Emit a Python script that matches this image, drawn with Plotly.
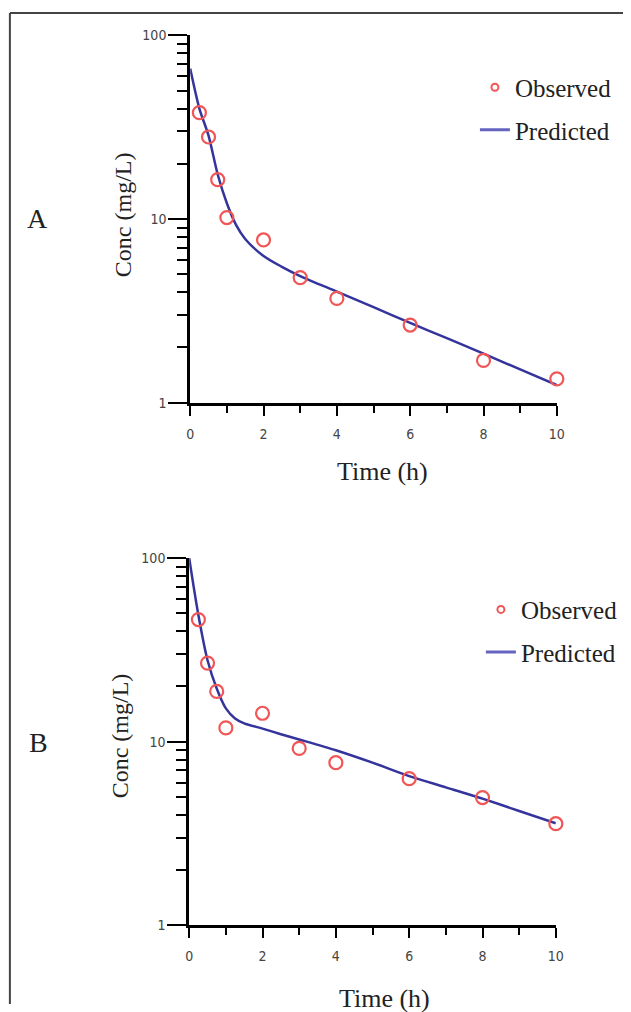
import plotly.graph_objects as go

# Panel A
time_obs = [0.25, 0.5, 0.75, 1, 2, 3, 4, 6, 8, 10]
conc_obs_a = [38, 28, 16.4, 10.2, 7.7, 4.8, 3.7, 2.65, 1.7, 1.35]
time_pred = [0, 0.25, 0.5, 0.75, 1, 1.25, 1.5, 2, 2.5, 3, 4, 5, 6, 7, 8, 9, 10]
conc_pred_a = [66, 40, 28.5, 17.5, 12.2, 9.3, 7.8, 6.3, 5.5, 4.9, 4.03, 3.32, 2.72, 2.25, 1.85, 1.52, 1.25]

# Panel B
conc_obs_b = [46.3, 26.8, 18.8, 11.9, 14.3, 9.2, 7.7, 6.3, 4.97, 3.58]
conc_pred_b = [100, 49, 27.8, 19.5, 15.2, 13.4, 12.6, 11.8, 11.0, 10.3, 9.0, 7.7, 6.5, 5.65, 4.9, 4.2, 3.6]

RED = "#f05656"
BLUE = "#34349c"
SERIF = "Liberation Serif, Times New Roman, serif"
TICKFONT = dict(family="DejaVu Sans Condensed, Liberation Sans, sans-serif", size=14, color="#444")

W, H = 631, 1012


# the page shows up slightly shrunk, so positions are given in screen pixels
# and mapped back to layout pixels here
def px(x):
    return ((x - 2.6) / 0.982) / W


def py(y):
    return 1 - ((y - 8.6) / 0.982) / H


fig = go.Figure()

panels = [
    ("x", "y", "legend", conc_obs_a, conc_pred_a),
    ("x2", "y2", "legend2", conc_obs_b, conc_pred_b),
]
for xa, ya, leg, obs, pred in panels:
    fig.add_trace(go.Scatter(
        x=time_pred, y=pred, xaxis=xa, yaxis=ya, mode="lines",
        line=dict(color=BLUE, width=2.5, shape="spline", smoothing=0.8),
        showlegend=False, cliponaxis=True,
    ))
    fig.add_trace(go.Scatter(
        x=time_obs, y=obs, xaxis=xa, yaxis=ya, mode="markers",
        marker=dict(symbol="circle-open", size=13, color=RED, line=dict(width=2.2, color=RED)),
        showlegend=False, cliponaxis=False,
    ))
    # legend entries
    fig.add_trace(go.Scatter(
        x=[None], y=[None], xaxis=xa, yaxis=ya, mode="markers", name="Observed",
        marker=dict(symbol="circle-open", size=7, color=RED, line=dict(width=2, color=RED)),
        legend=leg, legendgroup=leg + "o",
    ))
    fig.add_trace(go.Scatter(
        x=[None], y=[None], xaxis=xa, yaxis=ya, mode="lines", name="Predicted",
        line=dict(color="#6464c0", width=3),
        legend=leg, legendgroup=leg + "p",
    ))

xcommon = dict(
    range=[0, 10], dtick=2, ticks="outside", ticklen=10, tickwidth=2, tickcolor="black",
    showline=True, linecolor="black", linewidth=3, showgrid=False, zeroline=False,
    tickfont=TICKFONT, ticklabelstandoff=6,
    minor=dict(dtick=1, ticks="outside", ticklen=7, tickwidth=2, tickcolor="black", showgrid=False),
)
ycommon = dict(
    type="log", range=[0, 2], dtick=1, ticks="outside", ticklen=19, tickwidth=2, tickcolor="black",
    showline=True, linecolor="black", linewidth=3, showgrid=False, zeroline=False,
    tickfont=TICKFONT, ticklabelstandoff=-1,
    minor=dict(dtick="D1", ticks="outside", ticklen=10, tickwidth=2, tickcolor="black", showgrid=False),
)

legcommon = dict(
    font=dict(family=SERIF, size=25, color="#222"), bgcolor="rgba(0,0,0,0)",
    xanchor="left", yanchor="top", tracegroupgap=7, itemwidth=30,
)

def label(text, x, y, size, angle=0):
    return dict(text=text, x=px(x), y=py(y), xref="paper", yref="paper", showarrow=False,
                xanchor="center", yanchor="middle", textangle=angle,
                font=dict(family=SERIF, size=size, color="#222"))


fig.update_layout(
    width=W, height=H,
    margin=dict(l=0, r=0, t=0, b=0),
    paper_bgcolor="white", plot_bgcolor="white",
    xaxis=dict(domain=[px(189), px(556)], anchor="y", **xcommon),
    yaxis=dict(domain=[py(402.5), py(36)], anchor="x", **ycommon),
    xaxis2=dict(domain=[px(188), px(555)], anchor="y2", **xcommon),
    yaxis2=dict(domain=[py(924), py(557.5)], anchor="x2", **ycommon),
    legend=dict(x=px(474), y=py(65), **legcommon),
    legend2=dict(x=px(480), y=py(586), **legcommon),
    annotations=[
        label("A", 36, 219, 28),
        label("B", 37, 741, 28),
        label("Conc (mg/L)", 122, 215, 24, -90),
        label("Conc (mg/L)", 119, 735, 24, -90),
        label("Time (h)", 381, 471, 26),
        label("Time (h)", 383, 997, 26),
    ],
    shapes=[
        dict(type="line", xref="paper", yref="paper", x0=px(8.5), x1=1, y0=py(13.5), y1=py(13.5),
             line=dict(color="#444", width=2)),
        dict(type="line", xref="paper", yref="paper", x0=px(8.5), x1=px(8.5), y0=py(13.5), y1=0,
             line=dict(color="#444", width=2)),
    ],
)

# drop the default page margin so the figure fills the window
fig.write_html(
    "out.html",
    config={"displayModeBar": False},
    post_script="document.body.style.margin='0';document.body.style.padding='0';",
)
